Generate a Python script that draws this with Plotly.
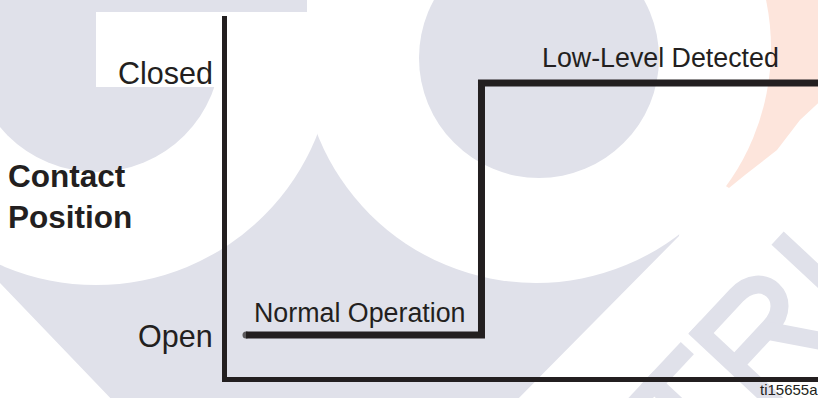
import math
import plotly.graph_objects as go

# contact state over time (arbitrary time units)
time = [0, 4, 4, 10]
state = [0, 0, 1, 1]                 # 0 = open, 1 = closed
state_vals = [0, 1]
state_labels = ["Open", "Closed"]
phase_labels = ["Normal Operation", "Low-Level Detected"]
axis_title = "Contact<br>Position"
figure_id = "ti15655a"

INK = "#231f20"
GRAY = "#e0e1ea"
ORANGE = "#fde5dc"
FONT = "Liberation Sans, Arial, Helvetica, sans-serif"

W, H = 818, 398
L, R, T, B = 227, 0, 16, 21


# pixel -> paper helpers (for the background watermark and labels)
def X(px):
    return (px - L) / (W - L - R)


def Y(py):
    return (H - B - py) / (H - T - B)


def path(points, close=True):
    s = "M " + " L ".join(f"{X(x):.5f},{Y(y):.5f}" for x, y in points)
    return s + (" Z" if close else "")


def circle(cx, cy, r, color):
    return dict(type="circle", xref="paper", yref="paper", layer="below",
                x0=X(cx - r), x1=X(cx + r), y0=Y(cy + r), y1=Y(cy - r),
                fillcolor=color, line_width=0)


def poly(points, color):
    return dict(type="path", xref="paper", yref="paper", layer="below",
                path=path(points), fillcolor=color, line_width=0)


# rotated watermark letters
th = math.radians(47)
ux, uy = math.cos(th), -math.sin(th)
vx, vy = -math.sin(th), -math.cos(th)
ox, oy = 698, 492
cap, sw = 115, 18


def lp(a, b):
    return (ox + a * ux + b * vx, oy + a * uy + b * vy)


def stroke(pts):
    return dict(type="path", xref="paper", yref="paper", layer="below",
                path=path([lp(a, b) for a, b in pts], close=False),
                line=dict(color=GRAY, width=sw))


def bowl():
    p = [lp(110, cap - sw / 2), lp(170, cap - sw / 2), lp(208, cap - sw / 2),
         lp(208, cap * 0.52), lp(170, cap * 0.52), lp(110, cap * 0.52)]
    f = [f"{X(x):.5f},{Y(y):.5f}" for x, y in p]
    d = f"M {f[0]} L {f[1]} C {f[2]} {f[3]} {f[4]} L {f[5]}"
    return dict(type="path", xref="paper", yref="paper", layer="below",
                path=d, line=dict(color=GRAY, width=sw))


shapes = [
    poly([(-5, -5), (700, -5), (679, 236), (512, 405), (117, 405), (0, 283), (-5, 283)], GRAY),
    poly([(755, -5), (830, -5), (830, 92), (800, 120), (777, 150), (745, 175),
          (729, 188), (700, 170)], ORANGE),
    circle(96, 47, 238, "white"),
    circle(536, 48, 235, "white"),
    circle(96, 47, 125, GRAY),
    circle(539, 58, 120, GRAY),
    poly([(-5, -5), (307, -5), (307, 12), (-5, 12)], GRAY),
    poly([(96, 12), (307, 12), (307, 87), (96, 87)], "white"),
    # T R I
    stroke([(0, cap - sw / 2), (98, cap - sw / 2)]),
    stroke([(49, cap), (49, -40)]),
    stroke([(118, cap), (118, -40)]),
    bowl(),
    stroke([(165, cap * 0.52), (215, -20)]),
    stroke([(240, cap), (240, -40)]),
]

fig = go.Figure()
fig.add_trace(go.Scatter(
    x=time, y=state, mode="lines+markers",
    line=dict(color=INK, width=7),
    marker=dict(color=INK, size=[7, 0, 0, 0], line_width=0),
    hoverinfo="skip", showlegend=False))

annotations = [
    dict(text=state_labels[1], x=0, xref="paper", xanchor="right", xshift=-12,
         y=state_vals[1], yref="y", yanchor="middle", yshift=10.5, font_size=30.5),
    dict(text=state_labels[0], x=0, xref="paper", xanchor="right", xshift=-12,
         y=state_vals[0], yref="y", yanchor="middle", yshift=-1.5, font_size=30.5),
    dict(text=f"<b>{axis_title}</b>", x=X(6), xref="paper", xanchor="left", align="left",
         y=Y(196), yref="paper", yanchor="middle", font_size=31.5),
    dict(text=phase_labels[0], x=X(252), xref="paper", xanchor="left",
         y=Y(312.5), yref="paper", yanchor="middle", font_size=26.8),
    dict(text=phase_labels[1], x=X(540), xref="paper", xanchor="left",
         y=Y(57.5), yref="paper", yanchor="middle", font_size=26.8),
    dict(text=figure_id, x=X(820), xref="paper", xanchor="right",
         y=Y(389.5), yref="paper", yanchor="middle", font_size=15),
]
for a in annotations:
    a.update(showarrow=False)

fig.update_layout(
    width=W, height=H, margin=dict(l=L, r=R, t=T, b=B),
    paper_bgcolor="white", plot_bgcolor="white",
    font=dict(family=FONT, color=INK),
    shapes=shapes, annotations=annotations, showlegend=False,
    xaxis=dict(range=[-0.3227, 9.716], showline=True, linewidth=5, linecolor=INK,
               showgrid=False, zeroline=False, showticklabels=False, ticks=""),
    yaxis=dict(range=[-0.1667, 1.2659], showline=True, linewidth=5, linecolor=INK,
               showgrid=False, zeroline=False, showticklabels=False, ticks=""),
)

# the page's default body margin would shift the figure by 8px
fig.write_html("out.html", config={"displayModeBar": False},
               post_script="document.body.style.margin='0';")
